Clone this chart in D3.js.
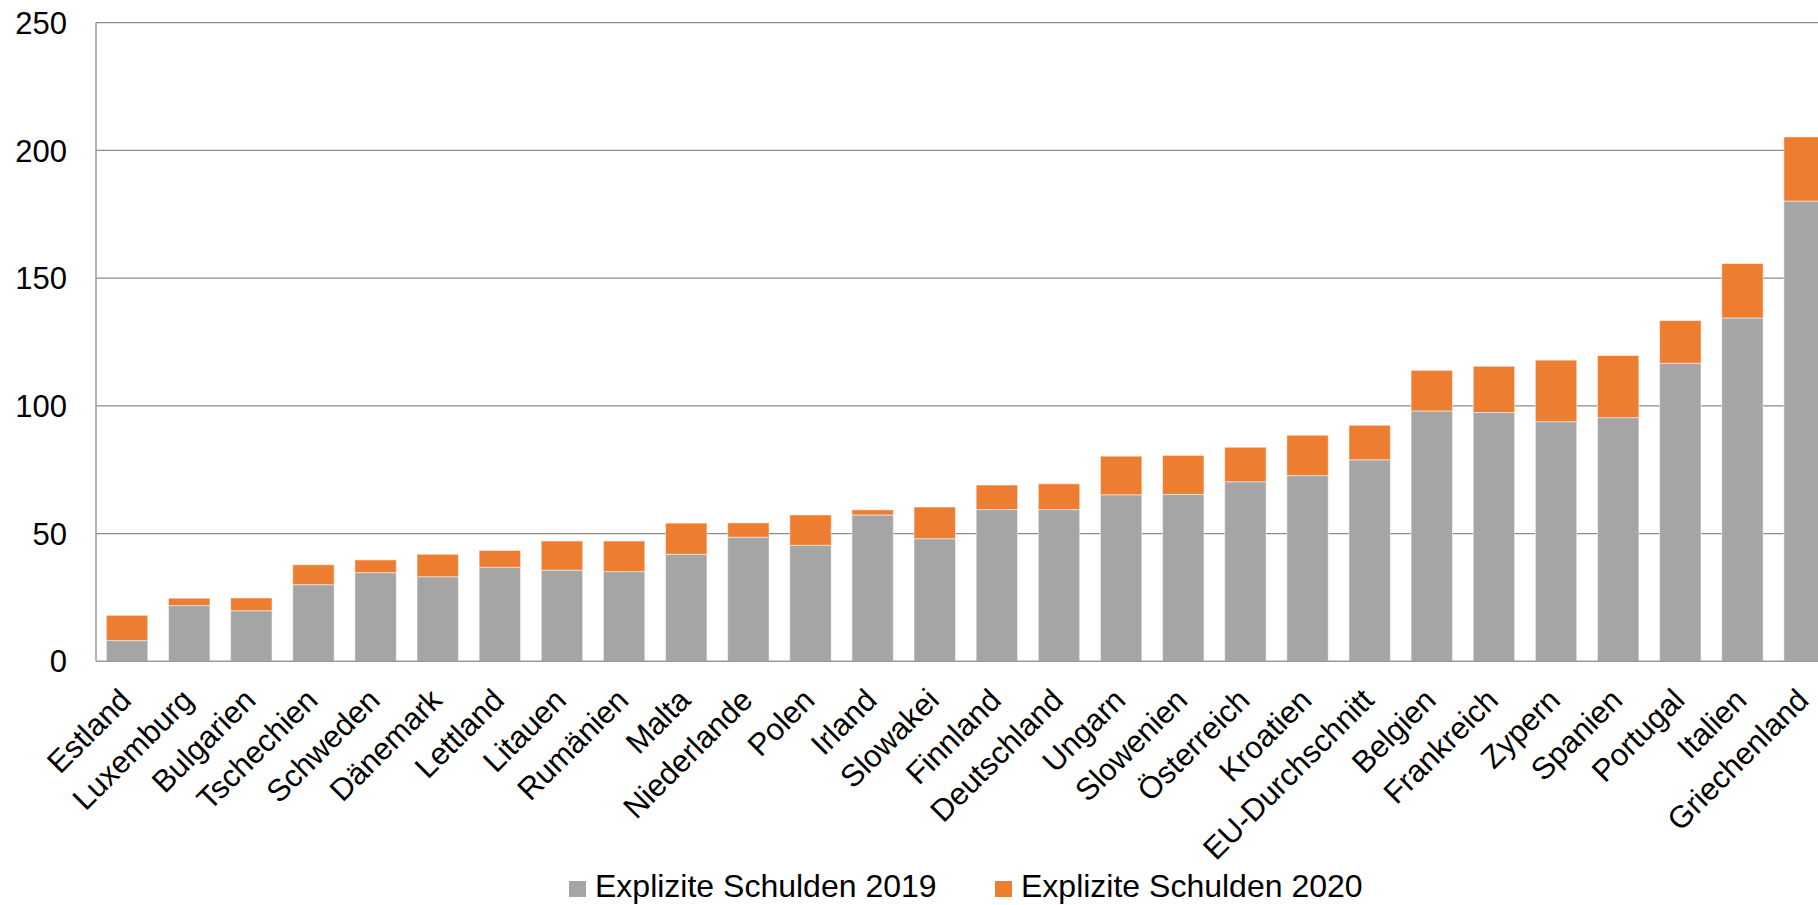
<!DOCTYPE html>
<html>
<head>
<meta charset="utf-8">
<script src="https://cdn.jsdelivr.net/npm/d3@7"></script>
<style>
  html, body { margin: 0; padding: 0; background: #fff; overflow: hidden; }
  svg { display: block; font-family: "Liberation Sans", Arial, sans-serif; }
</style>
</head>
<body>
<svg id="chart" width="1818" height="905"></svg>
<script>
const categories = ["Estland","Luxemburg","Bulgarien","Tschechien","Schweden","Dänemark","Lettland","Litauen","Rumänien","Malta","Niederlande","Polen","Irland","Slowakei","Finnland","Deutschland","Ungarn","Slowenien","Österreich","Kroatien","EU-Durchschnitt","Belgien","Frankreich","Zypern","Spanien","Portugal","Italien","Griechenland"];
const debt2019 = [8.1,21.8,19.8,30.0,34.7,33.1,36.8,35.7,35.1,41.9,48.6,45.4,57.3,48.0,59.4,59.4,65.2,65.3,70.3,72.7,78.9,98.0,97.4,93.8,95.4,116.7,134.4,180.2];
const debt2020 = [18.0,24.7,24.8,37.8,39.7,41.9,43.4,47.1,47.1,54.1,54.2,57.3,59.3,60.4,69.0,69.5,80.3,80.6,83.8,88.5,92.4,113.9,115.5,117.9,119.7,133.4,155.7,205.3];
const yTicks = [0, 50, 100, 150, 200, 250];
const seriesNames = ["Explizite Schulden 2019", "Explizite Schulden 2020"];
const seriesColors = ["#A5A5A5", "#ED7D31"];

(function () {
const svg = d3.select("#chart");
const plotLeft = 96, plotTop = 22.7, plotBottom = 661.3;
const step = 62.13;
const plotRight = plotLeft + step * categories.length;
const x = d3.scaleBand().domain(categories)
  .range([plotLeft, plotRight])
  .paddingInner(0.3337).paddingOuter(0.1669);
const y = d3.scaleLinear().domain([0, 250]).range([plotBottom, plotTop]);

// gridlines
svg.append("g").selectAll("line").data(yTicks.filter(d => d > 0)).join("line")
  .attr("x1", plotLeft).attr("x2", plotRight)
  .attr("y1", d => y(d)).attr("y2", d => y(d))
  .attr("stroke", "#8c8c8c").attr("stroke-width", 1.3);

// y tick labels
svg.append("g").selectAll("text").data(yTicks).join("text")
  .attr("x", 67).attr("y", d => y(d)).attr("dy", "0.36em")
  .attr("text-anchor", "end").attr("font-size", 31).attr("fill", "#000")
  .text(d => d);

const rows = categories.map((c, i) => ({ c, a: debt2019[i], b: debt2020[i] }));

// bars 2019
svg.append("g").selectAll("rect").data(rows).join("rect")
  .attr("x", d => x(d.c)).attr("width", x.bandwidth())
  .attr("y", d => y(d.a)).attr("height", d => y(0) - y(d.a))
  .attr("fill", seriesColors[0]).attr("stroke", "#fff").attr("stroke-opacity", 0.5).attr("stroke-width", 1);
// bars 2020 (increase stacked on top)
svg.append("g").selectAll("rect").data(rows).join("rect")
  .attr("x", d => x(d.c)).attr("width", x.bandwidth())
  .attr("y", d => y(d.b)).attr("height", d => y(d.a) - y(d.b))
  .attr("fill", seriesColors[1]).attr("stroke", "#fff").attr("stroke-opacity", 0.5).attr("stroke-width", 1);

// axis lines
svg.append("line").attr("x1", plotLeft).attr("x2", plotLeft).attr("y1", plotTop).attr("y2", plotBottom)
  .attr("stroke", "#9a9a9a").attr("stroke-width", 1.5);
svg.append("line").attr("x1", plotLeft).attr("x2", plotRight).attr("y1", plotBottom).attr("y2", plotBottom)
  .attr("stroke", "#9a9a9a").attr("stroke-width", 1.5);

// x labels
svg.append("g").selectAll("text").data(categories).join("text")
  .attr("transform", d => `translate(${x(d) + x.bandwidth() / 2 + 6},702) rotate(-45)`)
  .attr("text-anchor", "end").attr("font-size", 31).attr("fill", "#000")
  .text(d => d);

// legend
const legendX = [569, 995];
const lg = svg.append("g").selectAll("g").data(seriesNames).join("g")
  .attr("transform", (d, i) => `translate(${legendX[i]},0)`);
lg.append("rect").attr("x", 0).attr("y", 881).attr("width", 17).attr("height", 16)
  .attr("fill", (d, i) => seriesColors[i]);
lg.append("text").attr("x", 26).attr("y", 897).attr("font-size", 32).attr("fill", "#000")
  .text(d => d);
})();
</script>
</body>
</html>
